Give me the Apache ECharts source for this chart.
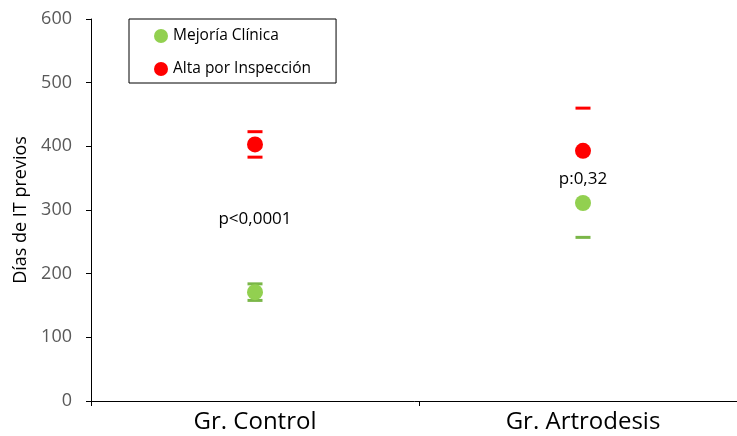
<!DOCTYPE html>
<html><head><meta charset="utf-8">
<script src="https://cdn.jsdelivr.net/npm/echarts@6/dist/echarts.min.js"></script>
<style>html,body{margin:0;padding:0;background:#fff}#c{width:737px;height:436px}</style>
</head><body><div id="c"></div>
<script>
const categories = ['Gr. Control', 'Gr. Artrodesis'];
const mejoria = [171, 311];
const alta = [403, 393];
const mejoriaBars = [[0, 184], [0, 158], [1, 257]];
const altaBars = [[0, 423], [0, 383], [1, 460]];
const pLabels = [[0, 286, 'p<0,0001'], [1, 349, 'p:0,32']];
const yTicks = [0, 100, 200, 300, 400, 500, 600];

const GREEN = '#92d050', RED = '#ff0000';
const FONT = 'Open Sans';
const chart = echarts.init(document.getElementById('c'));
chart.setOption({
  animation: false,
  grid: { left: 91, width: 656, top: 19, bottom: 35, outerBoundsMode: 'none', containLabel: false },
  legend: {
    left: 129, top: 19, orient: 'vertical',
    borderColor: '#000', borderWidth: 1, backgroundColor: '#fff',
    padding: [9, 25, 6, 25], itemGap: 17, itemWidth: 14, itemHeight: 14,
    textStyle: { fontFamily: FONT, fontSize: 15.5, color: '#000', lineHeight: 14 },
    data: [{ name: 'Mejoría Clínica', icon: 'circle' }, { name: 'Alta por Inspección', icon: 'circle' }]
  },
  xAxis: {
    type: 'category', data: categories,
    axisLine: { lineStyle: { color: '#000', width: 1 } },
    axisTick: { show: true, length: 5, lineStyle: { color: '#000' } },
    axisLabel: { fontFamily: FONT, fontSize: 24, color: '#000', margin: 9 }
  },
  yAxis: {
    type: 'value', min: 0, max: 600, interval: 100,
    name: 'Días de IT previos', nameLocation: 'middle', nameGap: 58, nameRotate: 90,
    nameTextStyle: { fontFamily: FONT, fontSize: 18, color: '#000' },
    axisLine: { show: true, lineStyle: { color: '#000' } },
    axisTick: { show: true, length: 5, lineStyle: { color: '#000' } },
    splitLine: { show: false },
    axisLabel: { fontFamily: FONT, fontSize: 18, color: '#595959', margin: 19,
      formatter: v => yTicks.includes(v) ? String(v) : '' }
  },
  series: [
    { name: 'Mejoría Clínica', type: 'scatter', symbol: 'circle', symbolSize: 16,
      data: mejoria, itemStyle: { color: GREEN, opacity: 1 }, z: 3 },
    { name: 'Alta por Inspección', type: 'scatter', symbol: 'circle', symbolSize: 16,
      data: alta, itemStyle: { color: RED, opacity: 1 }, z: 3 },
    { name: 'Mejoría Clínica', type: 'scatter', symbol: 'rect', symbolSize: [15, 3],
      data: mejoriaBars, itemStyle: { color: '#7ab648', opacity: 1 }, z: 2 },
    { name: 'Alta por Inspección', type: 'scatter', symbol: 'rect', symbolSize: [15, 3],
      data: altaBars, itemStyle: { color: RED, opacity: 1 }, z: 2 },
    { name: 'p', type: 'scatter', symbolSize: 0, data: pLabels,
      label: { show: true, position: 'inside', formatter: p => p.data[2],
        fontFamily: FONT, fontSize: 17, color: '#000', opacity: 1 }, itemStyle: { opacity: 1 }, z: 4 }
  ]
});
</script></body></html>
